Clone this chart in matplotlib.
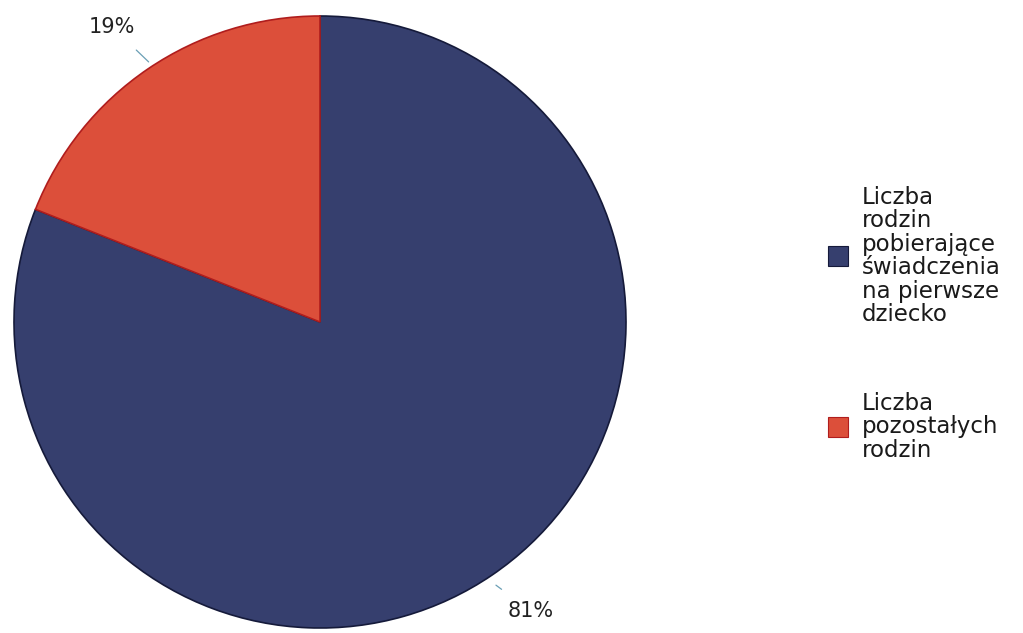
import matplotlib
matplotlib.use("Agg")
import matplotlib.pyplot as plt
from matplotlib.patches import Rectangle

# Share of families
categories = ["Liczba\nrodzin\npobierające\nświadczenia\nna pierwsze\ndziecko",
              "Liczba\npozostałych\nrodzin"]
values = [81, 19]
colors = ["#363f6e", "#dc4f3a"]
edge_colors = ["#151a3a", "#b01d1d"]

fig = plt.figure(figsize=(10.23, 6.33), dpi=100)
ax = fig.add_axes([14 / 1023, 5 / 633, 612 / 1023, 612 / 633])

wedges, _ = ax.pie(values, colors=colors, startangle=90, counterclock=False,
                   radius=1.0, wedgeprops=dict(linewidth=1.2))
for w, ec in zip(wedges, edge_colors):
    w.set_edgecolor(ec)
ax.set_xlim(-1, 1)
ax.set_ylim(-1, 1)
ax.set_aspect("equal")
ax.axis("off")

# percentage labels with short leader ticks
ax.annotate(f"{values[1]}%", xy=(-0.56, 0.85), xytext=(-0.68, 0.965),
            ha="center", va="center", fontsize=15, color="#222222",
            arrowprops=dict(arrowstyle="-", color="#6a9fb5", lw=0.9,
                            shrinkA=11, shrinkB=0))
ax.annotate(f"{values[0]}%", xy=(0.575, -0.86), xytext=(0.69, -0.945),
            ha="center", va="center", fontsize=15, color="#222222",
            arrowprops=dict(arrowstyle="-", color="#6a9fb5", lw=0.9,
                            shrinkA=11, shrinkB=0))

# legend drawn by hand on the right
legend_y = [256, 427]
for label, c, ec, y in zip(categories, colors, edge_colors, legend_y):
    fig.patches.append(Rectangle((828 / 1023, (633 - y - 10) / 633), 20 / 1023, 20 / 633,
                                 transform=fig.transFigure, facecolor=c,
                                 edgecolor=ec, linewidth=0.8))
    fig.text(862 / 1023, (633 - y) / 633, label, ha="left", va="center",
             fontsize=16.5, linespacing=1.02, color="#1a1a1a")

fig.savefig("out.png", dpi=100)
